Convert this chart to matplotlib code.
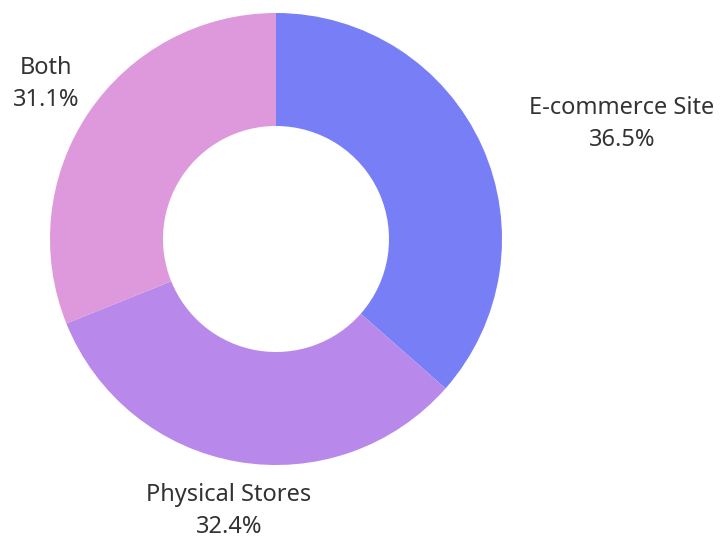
import matplotlib
matplotlib.use("Agg")
import matplotlib.pyplot as plt

channels = ["E-commerce Site", "Physical Stores", "Both"]
shares = [36.5, 32.4, 31.1]
colors = ["#787ef6", "#b888ea", "#de98dc"]

# label anchors in pixel space (origin bottom-left)
label_xy = [(622, 415), (229, 28), (46, 455)]

plt.rcParams["font.family"] = ["Noto Sans", "DejaVu Sans"]

fig = plt.figure(figsize=(7.2, 5.39), dpi=100)
ax = fig.add_axes([0, 0, 1, 1])
ax.pie(shares, colors=colors, startangle=90, counterclock=False,
       radius=226, center=(276, 300),
       wedgeprops=dict(width=113, linewidth=0))
ax.set_xlim(0, 720)
ax.set_ylim(0, 539)
ax.set_aspect("equal")
ax.axis("off")

for name, pct, (x, y) in zip(channels, shares, label_xy):
    ax.text(x, y, f"{name}\n{pct:.1f}%", ha="center", va="center",
            fontsize=17, color="#333333", linespacing=1.42)

fig.savefig("out.png", dpi=100)
